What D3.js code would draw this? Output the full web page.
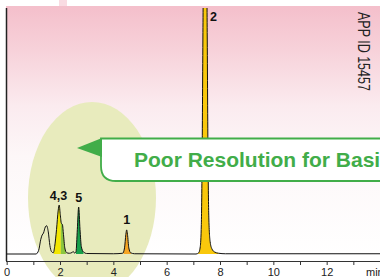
<!DOCTYPE html>
<html>
<head>
<meta charset="utf-8">
<script src="https://cdn.jsdelivr.net/npm/d3@7"></script>
<style>
  html, body { margin: 0; padding: 0; background: #fff; }
  svg { display: block; font-family: "Liberation Sans", Arial, sans-serif; }
</style>
</head>
<body>
<svg id="chart" width="380" height="277"></svg>
<script>
// ---- data ----
const times  = [0, 1.10, 1.20, 1.28, 1.33, 1.38, 1.45, 1.50, 1.56, 1.62, 1.68, 1.75, 1.80, 1.87, 1.93, 1.97, 2.01, 2.05, 2.09, 2.13, 2.18, 2.25, 2.35, 2.45, 2.50, 2.55, 2.60, 2.65, 2.70, 2.75, 2.80, 2.88, 3.00, 4.00, 4.35, 4.42, 4.47, 4.50, 4.53, 4.58, 4.65, 4.80, 7.10, 7.20, 7.26, 7.30, 7.33, 7.36, 7.38, 7.44, 7.50, 7.52, 7.55, 7.58, 7.63, 7.70, 7.80, 7.95, 8.20, 14];
const signal = [0, 0,    1.5,  6,    7.7,  8.5,  11,   11.5, 9,    3.5,  1,    0.5,  3,    10,   17.5, 19.9, 16,   12.5, 12,   8,    2.5,  0.5,  0.3,  0.6,  1.0,  0.3,  1,    10,   19.1, 10,   3,    0.8,  0.2,  0.1,  0.3,  2.5,  8,    9.8,  8,    2.5,  0.5,  0.1,  0,    0.5,  3,    12,   40,   90,   120,  150,  120,  90,   40,   15,   5,    2,    0.8,  0.3,  0.1,  0.1];
const peakNames  = ["4", "3", "5", "1", "2"];
const peakStart  = [1.77, 2.03, 2.60, 4.38, 7.18];
const peakEnd    = [2.03, 2.22, 2.88, 4.66, 7.95];
const peakLabels     = ["4,3", "5", "1", "2"];
const peakLabelTimes = [1.94, 2.70, 4.50, 7.44];
const peakLabelVals  = [19.9, 19.1, 9.8, 150];
const xTicks      = [0, 1, 2, 3, 4, 5, 6, 7, 8, 9, 10, 11, 12, 13];
const xTickLabels = ["0", "", "2", "", "4", "", "6", "", "8", "", "10", "", "12", ""];
const axisUnit  = "min";
const calloutText = "Poor Resolution for Basic Compounds";
const appId = "APP ID 15457";

// ---- styles ----
const fillColors = ["#f2e600", "#8cc63f", "#16a04a", "#f6a623", "#f9c80c"];
const green = "#41ad49";

const svg = d3.select("#chart");
const W = 380, H = 277;
const x = d3.scaleLinear().domain([0, 14]).range([6.67, 380]);
const y = d3.scaleLinear().domain([0, 100]).range([254, 8]);

const defs = svg.append("defs");
const grad = defs.append("linearGradient").attr("id", "bg")
  .attr("x1", 0).attr("y1", 0).attr("x2", 0).attr("y2", 1);
grad.append("stop").attr("offset", "0%").attr("stop-color", "#f4bfcb");
grad.append("stop").attr("offset", "18%").attr("stop-color", "#f7d2da");
grad.append("stop").attr("offset", "40%").attr("stop-color", "#fbebef");
grad.append("stop").attr("offset", "60%").attr("stop-color", "#fdf7f8");
grad.append("stop").attr("offset", "100%").attr("stop-color", "#ffffff");

defs.append("clipPath").attr("id", "plotClip").append("rect")
  .attr("x", 6).attr("y", 8).attr("width", W).attr("height", 260);

// background
svg.append("rect").attr("x", 59).attr("y", 0).attr("width", 8).attr("height", 6).attr("fill", "#f9dbe2");
svg.append("rect").attr("x", 6).attr("y", 6).attr("width", W - 6).attr("height", 250).attr("fill", "url(#bg)");

// highlight ellipse
svg.append("ellipse").attr("cx", 92).attr("cy", 198).attr("rx", 64).attr("ry", 96).attr("fill", "#e8ebbd");

// axes
svg.append("line").attr("x1", 6.5).attr("x2", 6.5).attr("y1", 8).attr("y2", 261)
  .attr("stroke", "#222").attr("stroke-width", 1.5);
const xAxis = d3.axisBottom(x).tickValues(xTicks).tickSize(4).tickSizeOuter(0)
  .tickFormat((d, i) => xTickLabels[i]);
const gx = svg.append("g").attr("transform", "translate(0,261)").call(xAxis);
gx.select(".domain").attr("stroke", "#333").attr("d", "M6,0.5H380");
gx.selectAll(".tick line").attr("stroke", "#333");
gx.selectAll(".tick text").attr("font-size", 11).attr("fill", "#222").attr("dy", "0.71em").attr("y", 7.5)
  .attr("font-family", "Liberation Sans, Arial, sans-serif");
svg.append("text").attr("x", 366).attr("y", 276).attr("font-size", 11).attr("fill", "#222").text(axisUnit);

// trace
const pts = times.map((t, i) => [t, signal[i]]);
const area = d3.area().x(d => x(d[0])).y0(y(0)).y1(d => y(d[1])).curve(d3.curveMonotoneX);
const line = d3.line().x(d => x(d[0])).y(d => y(d[1])).curve(d3.curveMonotoneX);

const plot = svg.append("g").attr("clip-path", "url(#plotClip)");
peakNames.forEach((n, i) => {
  const id = "pk" + i;
  defs.append("clipPath").attr("id", id).append("rect")
    .attr("x", x(peakStart[i])).attr("y", 0)
    .attr("width", x(peakEnd[i]) - x(peakStart[i])).attr("height", H);
  plot.append("g").attr("clip-path", `url(#${id})`)
    .append("path").attr("d", area(pts)).attr("fill", fillColors[i]);
});
plot.append("path").attr("d", line(pts)).attr("fill", "none")
  .attr("stroke", "#111").attr("stroke-width", 1).attr("stroke-linejoin", "round");

// peak labels
peakLabels.forEach((lab, i) => {
  const isTop = peakLabelVals[i] > 100;
  svg.append("text")
    .attr("x", isTop ? x(peakLabelTimes[i]) + 5 : x(peakLabelTimes[i]))
    .attr("y", isTop ? 20.5 : y(peakLabelVals[i]) - 5.5)
    .attr("text-anchor", isTop ? "start" : "middle")
    .attr("font-size", 12.5).attr("font-weight", "bold").attr("fill", "#111")
    .text(lab);
});

// callout banner
svg.append("path")
  .attr("d", "M101,138.5 H392 V181 H116 Q101,181 101,166 Z")
  .attr("fill", "#ffffff").attr("stroke", green).attr("stroke-width", 1.8);
svg.append("path").attr("d", "M77,148 L102,138 L102,157 Z").attr("fill", green);
svg.append("text").attr("x", 134).attr("y", 167).attr("font-size", 21).attr("font-weight", "bold")
  .attr("fill", green).text(calloutText);

// app id
svg.append("text").attr("transform", "translate(358,12) rotate(90) scale(1,1.25)")
  .attr("font-size", 12.5).attr("fill", "#222").text(appId);
</script>
</body>
</html>
